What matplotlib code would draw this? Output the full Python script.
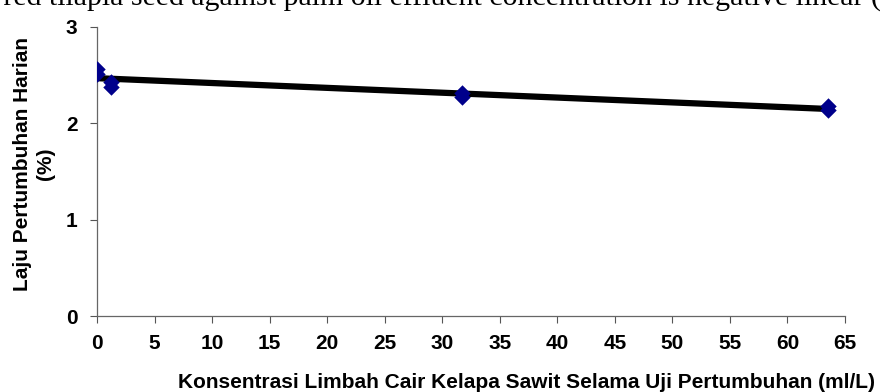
import numpy as np
import matplotlib
matplotlib.use("Agg")
import matplotlib.pyplot as plt

# Data
konsentrasi = [0, 0, 1.25, 1.25, 31.7, 31.7, 63.5, 63.5]
laju = [2.56, 2.51, 2.43, 2.38, 2.31, 2.27, 2.18, 2.14]
x_ticks = list(range(0, 66, 5))
y_ticks = [0, 1, 2, 3]

xlabel = "Konsentrasi Limbah Cair Kelapa Sawit Selama Uji Pertumbuhan (ml/L)"
ylabel = "Laju Pertumbuhan Harian\n(%)"
top_text = "of red tilapia seed against palm oil effluent concentration is negative linear ("

W, H = 883, 392
fig = plt.figure(figsize=(W / 100, H / 100), dpi=100)
ax = fig.add_axes([97 / W, 1 - 316 / H, (845 - 97) / W, (316 - 27) / H])

font = "Liberation Sans"
fs = 15

# trend line (linear fit of the data)
coef = np.polyfit(konsentrasi, laju, 1)
xs = np.array([min(konsentrasi), max(konsentrasi)])
ax.plot(xs, np.polyval(coef, xs), color="black", lw=4.5, zorder=2, solid_capstyle="butt")

ax.scatter(konsentrasi, laju, marker="D", s=70, color="#00008B", zorder=3, linewidths=0)

ax.set_xlim(0, 65)
ax.set_ylim(0, 3)
ax.set_xticks(x_ticks)
ax.set_yticks(y_ticks)
ax.set_xticklabels([str(v) for v in x_ticks], fontfamily=font, fontweight="bold", fontsize=fs)
ax.set_yticklabels([str(v) for v in y_ticks], fontfamily=font, fontweight="bold", fontsize=fs)
ax.tick_params(axis="both", direction="out", length=5, width=0.8, color="#555555")
ax.tick_params(axis="x", pad=8)
ax.tick_params(axis="y", pad=9)
for s in ["top", "right"]:
    ax.spines[s].set_visible(False)
for s in ["left", "bottom"]:
    ax.spines[s].set_color("#666666")
    ax.spines[s].set_linewidth(0.9)

fig.text(526 / W, 1 - 383 / H, xlabel, ha="center", va="center",
         fontfamily=font, fontweight="bold", fontsize=fs)
fig.text(34 / W, 1 - 164 / H, ylabel, ha="center", va="center", rotation=90,
         fontfamily=font, fontweight="bold", fontsize=fs, linespacing=1.2)

fig.text(0.998, 1 - 6 / H, top_text, ha="right", va="baseline",
         fontfamily="Liberation Serif", fontsize=21.5)

fig.savefig("out.png", dpi=100)
